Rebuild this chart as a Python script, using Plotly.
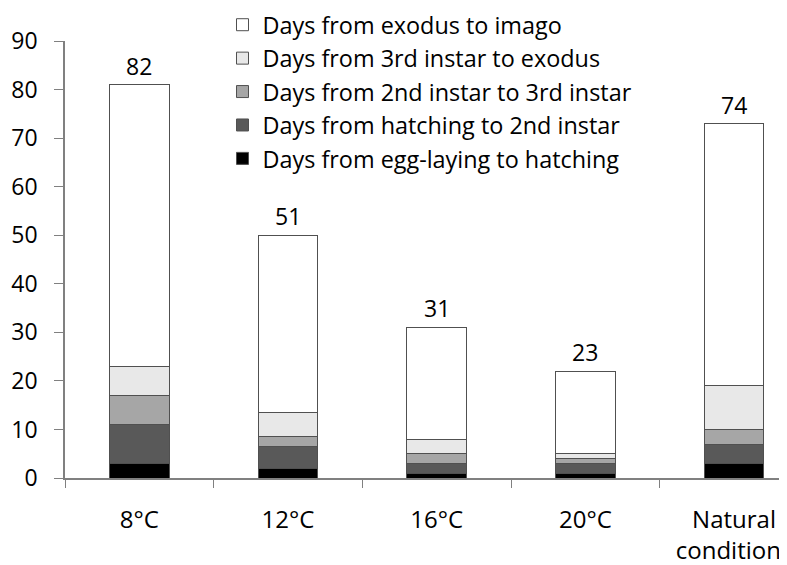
import plotly.graph_objects as go

categories = ["8°C", "12°C", "16°C", "20°C", "Natural<br>conditions"]
egg_to_hatching = [3, 2, 1, 1, 3]
hatching_to_2nd = [8, 4.5, 2, 2, 4]
second_to_3rd = [6, 2, 2, 1, 3]
third_to_exodus = [6, 5, 3, 1, 9]
exodus_to_imago = [58, 36.5, 23, 17, 54]
total_labels = ["82", "51", "31", "23", "74"]

series = [
    ("Days from egg-laying to hatching", egg_to_hatching, "#000000"),
    ("Days from hatching to 2nd instar", hatching_to_2nd, "#595959"),
    ("Days from 2nd instar to 3rd instar", second_to_3rd, "#a6a6a6"),
    ("Days from 3rd instar to exodus", third_to_exodus, "#e8e8e8"),
    ("Days from exodus to imago", exodus_to_imago, "#ffffff"),
]

FONT = "Open Sans"
fig = go.Figure()
for i, (name, vals, col) in enumerate(series):
    fig.add_trace(go.Bar(
        x=categories, y=vals, name=name, legendgroup=str(i),
        marker=dict(color=col, line=dict(color="#505050", width=1)),
    ))

totals = [sum(v) for v in zip(egg_to_hatching, hatching_to_2nd, second_to_3rd,
                              third_to_exodus, exodus_to_imago)]
for c, t, lab in zip(categories, totals, total_labels):
    fig.add_annotation(x=c, y=t, text=lab, showarrow=False, yanchor="bottom",
                       yshift=1, font=dict(family=FONT, size=23, color="#000"))

# The page body adds an 8px offset, so the figure is laid out 8px up/left.
fig.update_layout(
    width=787, height=565,
    margin=dict(l=57, r=0, t=33, b=95, autoexpand=False),
    barmode="stack", bargap=0.6,
    plot_bgcolor="white", paper_bgcolor="white",
    font=dict(family=FONT, color="#000"),
    showlegend=True,
    legend=dict(xref="container", yref="paper",
                x=214.5 / 787, y=1 + 38 / 437, xanchor="left", yanchor="top",
                traceorder="reversed", tracegroupgap=0,
                font=dict(family=FONT, size=23.4, color="#000"),
                bgcolor="rgba(0,0,0,0)", itemwidth=30),
)
fig.update_xaxes(
    range=[-0.5, 4.41], showline=True, linecolor="#808080", linewidth=1.5,
    ticks="outside", tickson="boundaries", ticklen=8, tickcolor="#808080",
    ticklabelstandoff=19,
    tickfont=dict(family=FONT, size=24, color="#000"), showgrid=False,
)
fig.update_yaxes(
    range=[0, 90], dtick=10, showline=True, linecolor="#808080", linewidth=1.5,
    ticks="outside", ticklen=9, tickcolor="#808080", ticklabelstandoff=12,
    tickfont=dict(family=FONT, size=23, color="#000"), showgrid=False,
    zeroline=False,
)
fig.write_html("out.html")
